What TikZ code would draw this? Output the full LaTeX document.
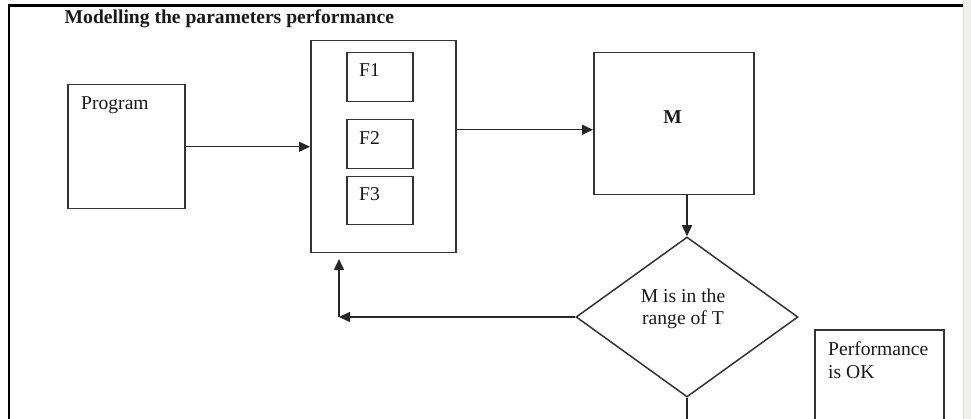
\documentclass[tikz,border=0pt]{standalone}
\usepackage{fontspec}
\setmainfont{Liberation Serif}
\usetikzlibrary{arrows.meta,shapes.geometric}
\definecolor{boxline}{HTML}{333333}
\definecolor{barfill}{HTML}{F0EFEE}
\definecolor{baredge}{HTML}{E2E1E0}
\tikzset{
  box/.style={draw=boxline, line width=1.5pt, minimum width=#1, inner sep=0pt, anchor=north west},
  txt/.style={inner sep=0pt, anchor=base west, font=\fontsize{19.6}{22.5}\selectfont, text=black!90},
  arr/.style={draw=black!85, line width=1.5pt, -{Triangle[length=11pt,width=10pt]}},
  plain/.style={draw=black!85, line width=1.5pt},
  frame/.style={draw=black, line width=2.3pt}
}
\begin{document}
\begin{tikzpicture}[x=1pt,y=-1pt]
\useasboundingbox (0,0) rectangle (971,419);
\clip (0,0) rectangle (971,419);
\fill[white] (0,0) rectangle (971,419);
% page edge bar
\fill[barfill] (963,0) rectangle (971,419);
\draw[baredge, line width=1pt] (963.5,0) -- (963.5,419);
% frame
\coordinate (fr1) at (9.2,430);
\coordinate (fr2) at (9.2,5.6);
\coordinate (fr3) at (963,5.6);
\draw[frame] (fr1) -- (fr2) -- (fr3);
% title
\node[txt, font=\bfseries\fontsize{19.6}{22.5}\selectfont] (title) at (64.5,24) {Modelling the parameters performance};
% Program box
\node[box=117pt, minimum height=124pt] (prog) at (67,84) {};
\node[txt] (progt) at (81,109.3) {Program};
% big box with F1..F3
\node[box=145pt, minimum height=212pt] (big) at (310,40) {};
\node[box=66pt, minimum height=49pt] (f1) at (346,52) {};
\node[box=66pt, minimum height=49pt] (f2) at (346,119) {};
\node[box=66pt, minimum height=48pt] (f3) at (346,176) {};
\node[txt] (f1t) at (359,76.7) {F1};
\node[txt] (f2t) at (359,145) {F2};
\node[txt] (f3t) at (359,201) {F3};
% M box
\node[box=160pt, minimum height=142pt] (m) at (593,52) {};
\node[txt, anchor=base, font=\bfseries\fontsize{19.6}{22.5}\selectfont] (mt) at (672.5,123.3) {M};
% diamond
\node[draw=boxline, line width=1.5pt, diamond, minimum width=222pt, minimum height=160pt, inner sep=0pt] (dia) at (687,317) {};
\node[txt, anchor=base] (dt1) at (683,302) {M is in the};
\node[txt, anchor=base] (dt2) at (683,324.5) {range of T};
% Performance box
\node[box=129pt, minimum height=110pt] (perf) at (814,329) {};
\node[txt] (pt1) at (828,355) {Performance};
\node[txt] (pt2) at (828,378) {is OK};
% connectors
\draw[arr] (prog.east) -- (big.west |- prog.east);
\coordinate (bm) at ([yshift=-6pt]m.west);
\draw[arr] (big.east |- bm) -- (bm);
\draw[arr] (m.south -| dia.north) -- (dia.north);
\coordinate (fb) at (339,317);
\coordinate (fbtop) at (339,259);
\draw[arr] (dia.west) -- (fb);
\draw[arr] (fb) -- (fbtop);
\coordinate (bot) at (687,430);
\draw[plain] (dia.south) -- (bot);
\end{tikzpicture}
\end{document}
